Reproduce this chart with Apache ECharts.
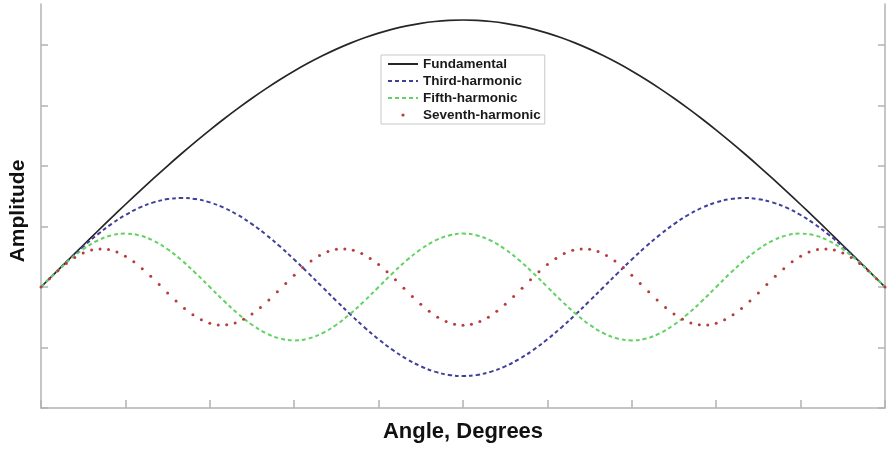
<!DOCTYPE html>
<html>
<head>
<meta charset="utf-8">
<script src="https://cdn.jsdelivr.net/npm/echarts@6/dist/echarts.min.js"></script>
<style>
  html, body { margin: 0; padding: 0; background: #fff; }
  #chart { width: 888px; height: 451px; }
</style>
</head>
<body>
<div id="chart"></div>
<script>
// angle (degrees) for the line curves, 3 degree steps
const lineAngles = [0, 3, 6, 9, 12, 15, 18, 21, 24, 27, 30, 33, 36, 39, 42, 45, 48, 51, 54, 57, 60,
  63, 66, 69, 72, 75, 78, 81, 84, 87, 90, 93, 96, 99, 102, 105, 108, 111, 114, 117, 120,
  123, 126, 129, 132, 135, 138, 141, 144, 147, 150, 153, 156, 159, 162, 165, 168, 171, 174, 177, 180];

const fundamental = [0, 0.0523, 0.1045, 0.1564, 0.2079, 0.2588, 0.309, 0.3584, 0.4067, 0.454, 0.5,
  0.5446, 0.5878, 0.6293, 0.6691, 0.7071, 0.7431, 0.7771, 0.809, 0.8387, 0.866,
  0.891, 0.9135, 0.9336, 0.9511, 0.9659, 0.9781, 0.9877, 0.9945, 0.9986, 1,
  0.9986, 0.9945, 0.9877, 0.9781, 0.9659, 0.9511, 0.9336, 0.9135, 0.891, 0.866,
  0.8387, 0.809, 0.7771, 0.7431, 0.7071, 0.6691, 0.6293, 0.5878, 0.5446, 0.5,
  0.454, 0.4067, 0.3584, 0.309, 0.2588, 0.2079, 0.1564, 0.1045, 0.0523, 0];

const thirdHarmonic = [0, 0.0521, 0.103, 0.1513, 0.1959, 0.2357, 0.2697, 0.297, 0.317, 0.3292, 0.3333,
  0.3292, 0.317, 0.297, 0.2697, 0.2357, 0.1959, 0.1513, 0.103, 0.0521, 0,
  -0.0521, -0.103, -0.1513, -0.1959, -0.2357, -0.2697, -0.297, -0.317, -0.3292, -0.3333,
  -0.3292, -0.317, -0.297, -0.2697, -0.2357, -0.1959, -0.1513, -0.103, -0.0521, 0,
  0.0521, 0.103, 0.1513, 0.1959, 0.2357, 0.2697, 0.297, 0.317, 0.3292, 0.3333,
  0.3292, 0.317, 0.297, 0.2697, 0.2357, 0.1959, 0.1513, 0.103, 0.0521, 0];

const fifthHarmonic = [0, 0.0518, 0.1, 0.1414, 0.1732, 0.1932, 0.2, 0.1932, 0.1732, 0.1414, 0.1,
  0.0518, 0, -0.0518, -0.1, -0.1414, -0.1732, -0.1932, -0.2, -0.1932, -0.1732,
  -0.1414, -0.1, -0.0518, 0, 0.0518, 0.1, 0.1414, 0.1732, 0.1932, 0.2,
  0.1932, 0.1732, 0.1414, 0.1, 0.0518, 0, -0.0518, -0.1, -0.1414, -0.1732,
  -0.1932, -0.2, -0.1932, -0.1732, -0.1414, -0.1, -0.0518, 0, 0.0518, 0.1,
  0.1414, 0.1732, 0.1932, 0.2, 0.1932, 0.1732, 0.1414, 0.1, 0.0518, 0];

// angle (degrees) for the dotted seventh harmonic, 1.8 degree steps
const dotAngles = [0, 1.8, 3.6, 5.4, 7.2, 9, 10.8, 12.6, 14.4, 16.2, 18, 19.8, 21.6, 23.4, 25.2, 27,
  28.8, 30.6, 32.4, 34.2, 36, 37.8, 39.6, 41.4, 43.2, 45, 46.8, 48.6, 50.4, 52.2, 54, 55.8,
  57.6, 59.4, 61.2, 63, 64.8, 66.6, 68.4, 70.2, 72, 73.8, 75.6, 77.4, 79.2, 81, 82.8, 84.6,
  86.4, 88.2, 90, 91.8, 93.6, 95.4, 97.2, 99, 100.8, 102.6, 104.4, 106.2, 108, 109.8, 111.6,
  113.4, 115.2, 117, 118.8, 120.6, 122.4, 124.2, 126, 127.8, 129.6, 131.4, 133.2, 135, 136.8,
  138.6, 140.4, 142.2, 144, 145.8, 147.6, 149.4, 151.2, 153, 154.8, 156.6, 158.4, 160.2, 162,
  163.8, 165.6, 167.4, 169.2, 171, 172.8, 174.6, 176.4, 178.2, 180];

const seventhHarmonic = [0, 0.0312, 0.0608, 0.0876, 0.1101, 0.1273, 0.1384, 0.1428, 0.1403, 0.1311,
  0.1156, 0.0945, 0.0688, 0.0399, 0.009, -0.0223, -0.0526, -0.0803, -0.1041, -0.123,
  -0.1359, -0.1422, -0.1417, -0.1344, -0.1206, -0.101, -0.0765, -0.0484, -0.0179, 0.0134,
  0.0441, 0.0727, 0.0978, 0.1182, 0.1328, 0.1411, 0.1426, 0.1372, 0.1252, 0.1072,
  0.084, 0.0567, 0.0268, -0.0045, -0.0355, -0.0649, -0.0911, -0.1129, -0.1293, -0.1394,
  -0.1429,
  -0.1394, -0.1293, -0.1129, -0.0911, -0.0649, -0.0355, -0.0045, 0.0268, 0.0567, 0.084,
  0.1072, 0.1252, 0.1372, 0.1426, 0.1411, 0.1328, 0.1182, 0.0978, 0.0727, 0.0441,
  0.0134, -0.0179, -0.0484, -0.0765, -0.101, -0.1206, -0.1344, -0.1417, -0.1422, -0.1359,
  -0.123, -0.1041, -0.0803, -0.0526, -0.0223, 0.009, 0.0399, 0.0688, 0.0945, 0.1156,
  0.1311, 0.1403, 0.1428, 0.1384, 0.1273, 0.1101, 0.0876, 0.0608, 0.0312, 0];

// tick positions (labels are hidden in the original)
const xTicks = [0, 18, 36, 54, 72, 90, 108, 126, 144, 162, 180];
const yTicks = [-0.4532, -0.2266, 0, 0.2266, 0.4532, 0.6798, 0.9064];

const seriesNames = ['Fundamental', 'Third-harmonic', 'Fifth-harmonic', 'Seventh-harmonic'];

const pair = (xs, ys) => xs.map((x, i) => [x, ys[i]]);

const chart = echarts.init(document.getElementById('chart'));

const font = '"Liberation Sans", Arial, sans-serif';
const axisGrey = '#b3b3b3';

const yAxisBase = {
  type: 'value',
  min: yTicks[0],
  max: 1.06,
  axisLine: { show: true, onZero: false, lineStyle: { color: axisGrey, width: 1.5 } },
  axisTick: { show: true, inside: true, length: 7, customValues: yTicks, lineStyle: { color: axisGrey, width: 1.5 } },
  axisLabel: { show: false },
  splitLine: { show: false },
};

const option = {
  backgroundColor: '#ffffff',
  animation: false,
  grid: { left: 39, right: 3, top: 4, bottom: 43 },
  legend: {
    orient: 'vertical',
    left: 381,
    top: 55,
    padding: [1, 4, 1, 6],
    itemWidth: 30,
    itemHeight: 4,
    itemGap: 1,
    backgroundColor: '#ffffff',
    borderColor: '#c8c8c8',
    borderWidth: 1,
    textStyle: { fontFamily: font, fontWeight: 'bold', fontSize: 13.5, color: '#1a1a1a', lineHeight: 16 },
    data: seriesNames.map((name, i) => (i < 3 ? { name, itemStyle: { opacity: 0 } } : { name })),
  },
  xAxis: {
    type: 'value',
    min: 0,
    max: 180,
    name: 'Angle, Degrees',
    nameLocation: 'middle',
    nameGap: 13,
    nameTextStyle: { fontFamily: font, fontWeight: 'bold', fontSize: 22, color: '#111' },
    axisLine: { show: true, onZero: false, lineStyle: { color: axisGrey, width: 1.5 } },
    axisTick: { show: true, inside: true, length: 8, customValues: xTicks, lineStyle: { color: axisGrey, width: 1.5 } },
    axisLabel: { show: false },
    splitLine: { show: false },
  },
  yAxis: [
    Object.assign({}, yAxisBase, {
      position: 'left',
      name: 'Amplitude',
      nameLocation: 'middle',
      nameGap: 12,
      nameTextStyle: { fontFamily: font, fontWeight: 'bold', fontSize: 21, color: '#111', padding: [0, 10, 0, 0] },
    }),
    Object.assign({}, yAxisBase, { position: 'right' }),
  ],
  series: [
    {
      name: seriesNames[0],
      type: 'line',
      data: pair(lineAngles, fundamental),
      symbol: 'none',
      smooth: 0.4,
      itemStyle: { color: '#262626' },
      lineStyle: { color: '#262626', width: 1.7 },
    },
    {
      name: seriesNames[1],
      type: 'line',
      data: pair(lineAngles, thirdHarmonic),
      symbol: 'none',
      smooth: 0.4,
      itemStyle: { color: '#40409a' },
      lineStyle: { color: '#40409a', width: 2, type: [4, 3] },
    },
    {
      name: seriesNames[2],
      type: 'line',
      data: pair(lineAngles, fifthHarmonic),
      symbol: 'none',
      smooth: 0.4,
      itemStyle: { color: '#62d262' },
      lineStyle: { color: '#62d262', width: 2, type: [4, 3] },
    },
    {
      name: seriesNames[3],
      type: 'line',
      data: pair(dotAngles, seventhHarmonic),
      symbol: 'circle',
      symbolSize: 3,
      showSymbol: true,
      showAllSymbol: true,
      itemStyle: { color: '#b83c3c', borderWidth: 0 },
      lineStyle: { opacity: 0, width: 0 },
    },
  ],
};

chart.setOption(option);
</script>
</body>
</html>
